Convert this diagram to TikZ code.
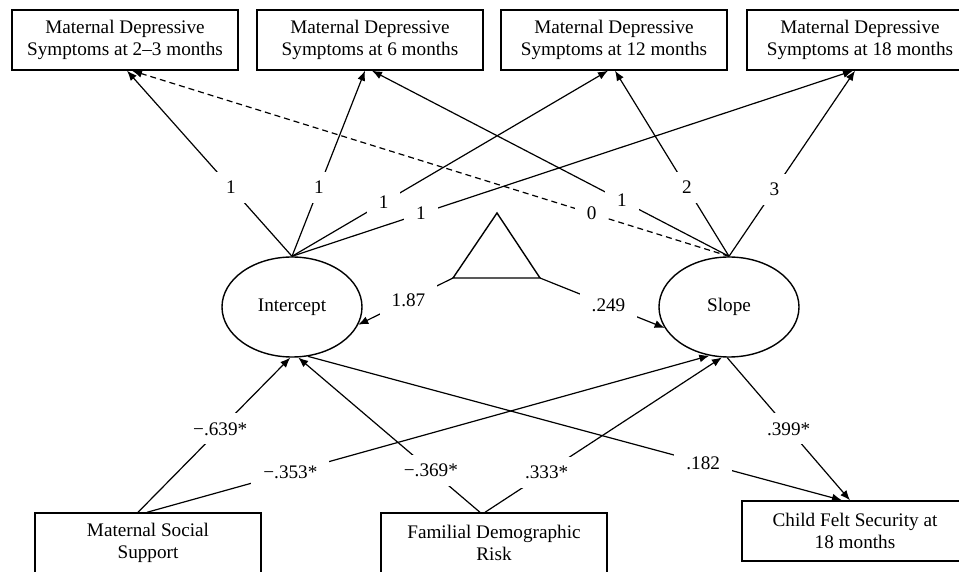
\documentclass[tikz,border=0pt]{standalone}
\usepackage{fontspec}
\setmainfont{Liberation Serif}
\usetikzlibrary{shapes}
\usetikzlibrary{arrows.meta}

\begin{document}
\begin{tikzpicture}[x=0.5pt,y=-0.5pt,
squarednode/.style={rectangle, draw, line width=0.7pt, align=center, minimum width=113pt, minimum height=30pt, inner sep=2pt, font=\fontsize{9.6}{11}\selectfont},
ovalnode/.style={ellipse, draw, line width=0.7pt, minimum width=70pt, minimum height=50pt, inner sep=0pt, font=\fontsize{9.6}{11}\selectfont},
coeflabel/.style={fill=white, inner xsep=6pt, inner ysep=4.5pt, font=\fontsize{9.6}{11}\selectfont},
path arrow/.style={-{Latex[length=5pt,width=4pt]}, line width=0.6pt}
]
\useasboundingbox (0,0) rectangle (959,572);

%Nodes
\node[squarednode] at (125,40) (MDS-1) {Maternal Depressive\\Symptoms at 2--3 months};
\node[squarednode] at (370,40) (MDS-2) {Maternal Depressive\\Symptoms at 6 months};
\node[squarednode] at (614,40) (MDS-3) {Maternal Depressive\\Symptoms at 12 months};
\node[squarednode] at (860,40) (MDS-4) {Maternal Depressive\\Symptoms at 18 months};

\node[ovalnode] at (292,307) (INTERCEPT) {Intercept};
\node[ovalnode] at (729,307) (SLOPE) {Slope};

\node[squarednode] at (148,543) (SUPPORT)  {Maternal Social\\Support};
\node[squarednode] at (494,543) (RISK)     {Familial Demographic\\Risk};
\node[squarednode] at (855,531) (SECURITY) {Child Felt Security at\\18 months};

%Triangle
\coordinate (TRI-L) at (453,278);
\coordinate (TRI-R) at (540,278);
\coordinate (TRI-T) at (497,213);
\draw[line width=0.7pt] (TRI-L) -- (TRI-T) -- (TRI-R) -- cycle;

%Lines
\draw[path arrow] (INTERCEPT.north) -- node[coeflabel,pos=0.37] {1} ([xshift=1pt]MDS-1.south);
\draw[path arrow] (INTERCEPT.north) -- node[coeflabel,pos=0.37] {1} ([xshift=-2.5pt]MDS-2.south);
\draw[path arrow] (INTERCEPT.north) -- node[coeflabel,pos=0.29] {1} ([xshift=-3pt]MDS-3.south);
\draw[path arrow] (INTERCEPT.north) -- node[coeflabel,pos=0.23] {1} ([xshift=-3.5pt]MDS-4.south);

\draw[path arrow,dash pattern=on 3pt off 2pt] (SLOPE.north) -- node[coeflabel,pos=0.23] {0} ([xshift=3.5pt]MDS-1.south);
\draw[path arrow] (SLOPE.north) -- node[coeflabel,pos=0.3]  {1} ([xshift=1pt]MDS-2.south);
\draw[path arrow] (SLOPE.north) -- node[coeflabel,pos=0.37] {2} ([xshift=0.5pt]MDS-3.south);
\draw[path arrow] (SLOPE.north) -- node[coeflabel,pos=0.36] {3} ([xshift=-2.5pt]MDS-4.south);

\draw[path arrow] (TRI-L) -- node[coeflabel,pos=0.47] {1.87} (INTERCEPT.-15);
\draw[path arrow] (TRI-R) -- node[coeflabel,pos=0.55] {.249} (SLOPE.198);

\draw[path arrow] ([xshift=-5pt]SUPPORT.north) -- node[coeflabel,pos=0.54] {−.639*} (INTERCEPT.-92);
\draw[path arrow] ([xshift=-0.5pt]SUPPORT.north) -- node[coeflabel,pos=0.255] {−.353*} (SLOPE.-112);
\draw[path arrow] ([xshift=-7pt]RISK.north) -- node[coeflabel,pos=0.27] {−.369*} (INTERCEPT.-83);
\draw[path arrow] ([xshift=-4.5pt]RISK.north) -- node[coeflabel,pos=0.26] {.333*} (SLOPE.-98);

\draw[path arrow] (INTERCEPT.-72) -- node[coeflabel,pos=0.74] {.182} ([xshift=-6.5pt]SECURITY.north);
\draw[path arrow] (SLOPE.-92) -- node[coeflabel,pos=0.5] {.399*} ([xshift=-2.5pt]SECURITY.north);
\end{tikzpicture}
\end{document}
